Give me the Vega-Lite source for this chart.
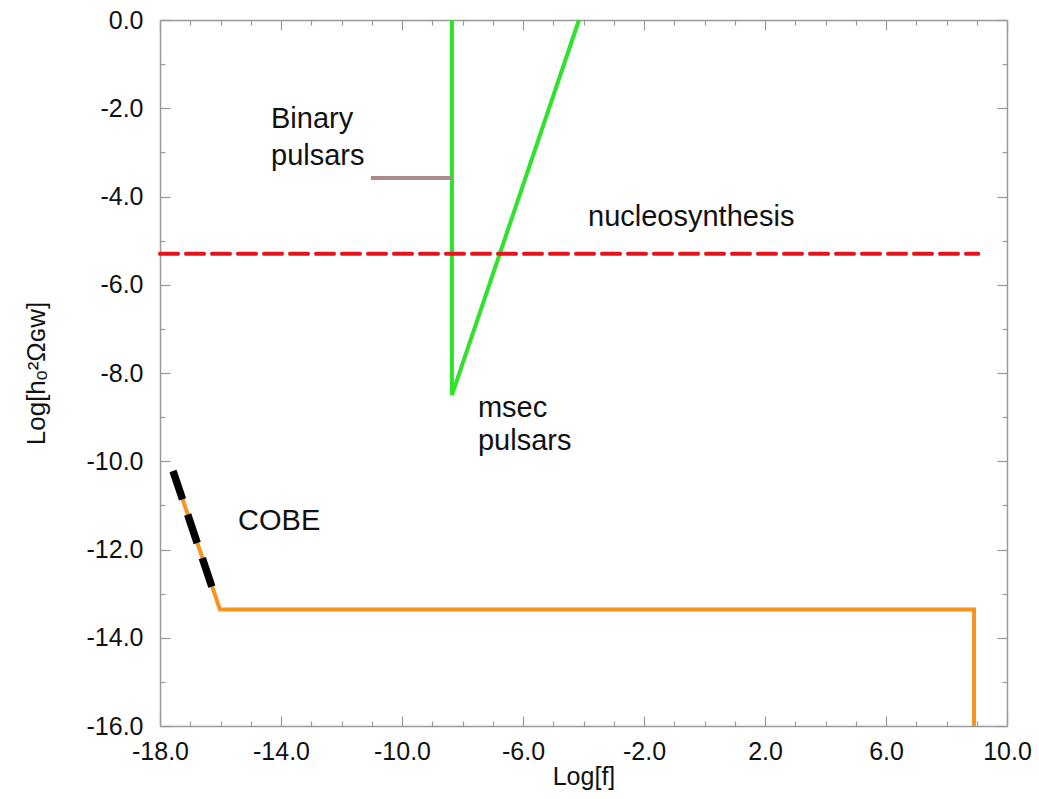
{
  "$schema": "https://vega.github.io/schema/vega-lite/v6.json",
  "autosize": {"type": "none"},
  "padding": {"left": 160, "top": 20, "right": 32, "bottom": 73},
  "width": 847,
  "height": 706,
  "background": "white",
  "config": {
    "view": {"stroke": null},
    "font": "Liberation Sans",
    "axis": {
      "domainColor": "#999999",
      "domainWidth": 1.5,
      "tickColor": "#999999",
      "tickWidth": 1.2,
      "grid": false,
      "labelFont": "Liberation Sans",
      "labelFontSize": 25,
      "labelColor": "#111111",
      "titleFont": "Liberation Sans",
      "titleFontSize": 25,
      "titleFontWeight": "normal",
      "titleColor": "#111111"
    }
  },
  "datasets": {
    "green": [
      {"f": -8.35, "h": 0, "o": 1},
      {"f": -8.35, "h": -8.5, "o": 2},
      {"f": -4.15, "h": 0, "o": 3}
    ],
    "brown": [
      {"f": -11.03, "h": -3.58},
      {"f": -8.35, "h": -3.58}
    ],
    "red": [
      {"f": -18.0, "h": -5.3},
      {"f": 9.05, "h": -5.3}
    ],
    "orange": [
      {"f": -17.57, "h": -10.22, "o": 1},
      {"f": -16.02, "h": -13.36, "o": 2},
      {"f": 8.91, "h": -13.36, "o": 3},
      {"f": 8.91, "h": -16.0, "o": 4}
    ],
    "black": [
      {"f": -17.57, "h": -10.22},
      {"f": -16.12, "h": -13.18}
    ],
    "labels": [
      {"f": -14.33, "h": -2.45, "t": "Binary"},
      {"f": -14.33, "h": -3.29, "t": "pulsars"},
      {"f": -3.85, "h": -4.67, "t": "nucleosynthesis"},
      {"f": -7.49, "h": -9.0, "t": "msec"},
      {"f": -7.49, "h": -9.75, "t": "pulsars"},
      {"f": -15.42, "h": -11.56, "t": "COBE"}
    ]
  },
  "resolve": {"axis": {"x": "independent", "y": "independent"}},
  "layer": [
    {
      "data": {"name": "green"},
      "mark": {"type": "line", "color": "#2fe22a", "strokeWidth": 4, "strokeJoin": "miter"},
      "encoding": {
        "x": {
          "field": "f", "type": "quantitative",
          "scale": {"domain": [-18, 10], "nice": false, "zero": false},
          "axis": {
            "orient": "bottom",
            "values": [-18,-17,-16,-15,-14,-13,-12,-11,-10,-9,-8,-7,-6,-5,-4,-3,-2,-1,0,1,2,3,4,5,6,7,8,9,10],
            "labelExpr": "(datum.value + 18) % 4 === 0 ? replace(format(datum.value, '.1f'), '\u2212', '-') : ''",
            "tickSize": {"condition": {"test": "(datum.value + 18) % 4 === 0", "value": -10}, "value": -5},
            "labelPadding": 23,
            "labelFlush": false,
            "labelOverlap": false,
            "title": "Log[f]",
            "titleY": 58,
            "titleBaseline": "alphabetic"
          }
        },
        "y": {
          "field": "h", "type": "quantitative",
          "scale": {"domain": [-16, 0], "nice": false, "zero": false},
          "axis": {
            "orient": "left",
            "values": [-16,-15,-14,-13,-12,-11,-10,-9,-8,-7,-6,-5,-4,-3,-2,-1,0],
            "labelExpr": "datum.value % 2 === 0 ? replace(format(datum.value, '.1f'), '\u2212', '-') : ''",
            "tickSize": {"condition": {"test": "datum.value % 2 === 0", "value": -10}, "value": -5},
            "labelPadding": 27,
            "labelFlush": false,
            "labelOverlap": false,
            "labelBaseline": "middle",
            "title": "Log[hₒ²Ωɢᴡ]",
            "titleAngle": -90,
            "titleX": -124,
            "titleY": 353,
            "titleAlign": "center",
            "titleBaseline": "middle",
            "titleFontSize": 26
          }
        },
        "order": {"field": "o", "type": "quantitative"}
      }
    },
    {
      "data": {"name": "brown"},
      "mark": {"type": "line", "color": "#ab8a8c", "strokeWidth": 4},
      "encoding": {
        "x": {"field": "f", "type": "quantitative", "axis": null},
        "y": {"field": "h", "type": "quantitative", "axis": null}
      }
    },
    {
      "data": {"name": "red"},
      "mark": {"type": "line", "color": "#e3141b", "strokeWidth": 4, "strokeDash": [18, 8], "strokeCap": "round"},
      "encoding": {
        "x": {"field": "f", "type": "quantitative", "axis": null},
        "y": {"field": "h", "type": "quantitative", "axis": null}
      }
    },
    {
      "data": {"name": "orange"},
      "mark": {"type": "line", "color": "#f7941e", "strokeWidth": 4, "strokeJoin": "miter"},
      "encoding": {
        "x": {
          "field": "f", "type": "quantitative",
          "axis": {
            "orient": "top",
            "values": [-18,-17,-16,-15,-14,-13,-12,-11,-10,-9,-8,-7,-6,-5,-4,-3,-2,-1,0,1,2,3,4,5,6,7,8,9,10],
            "labels": false,
            "tickSize": {"condition": {"test": "(datum.value + 18) % 4 === 0", "value": -10}, "value": -5},
            "title": null
          }
        },
        "y": {
          "field": "h", "type": "quantitative",
          "axis": {
            "orient": "right",
            "values": [-16,-15,-14,-13,-12,-11,-10,-9,-8,-7,-6,-5,-4,-3,-2,-1,0],
            "labels": false,
            "tickSize": {"condition": {"test": "datum.value % 2 === 0", "value": -10}, "value": -5},
            "title": null
          }
        },
        "order": {"field": "o", "type": "quantitative"}
      }
    },
    {
      "data": {"name": "black"},
      "mark": {"type": "line", "color": "#000000", "strokeWidth": 7.5, "strokeDash": [30, 16]},
      "encoding": {
        "x": {"field": "f", "type": "quantitative", "axis": null},
        "y": {"field": "h", "type": "quantitative", "axis": null}
      }
    },
    {
      "data": {"name": "labels"},
      "mark": {"type": "text", "align": "left", "baseline": "alphabetic", "fontSize": 29, "font": "Liberation Sans", "color": "#111111"},
      "encoding": {
        "x": {"field": "f", "type": "quantitative", "axis": null},
        "y": {"field": "h", "type": "quantitative", "axis": null},
        "text": {"field": "t"}
      }
    }
  ]
}
